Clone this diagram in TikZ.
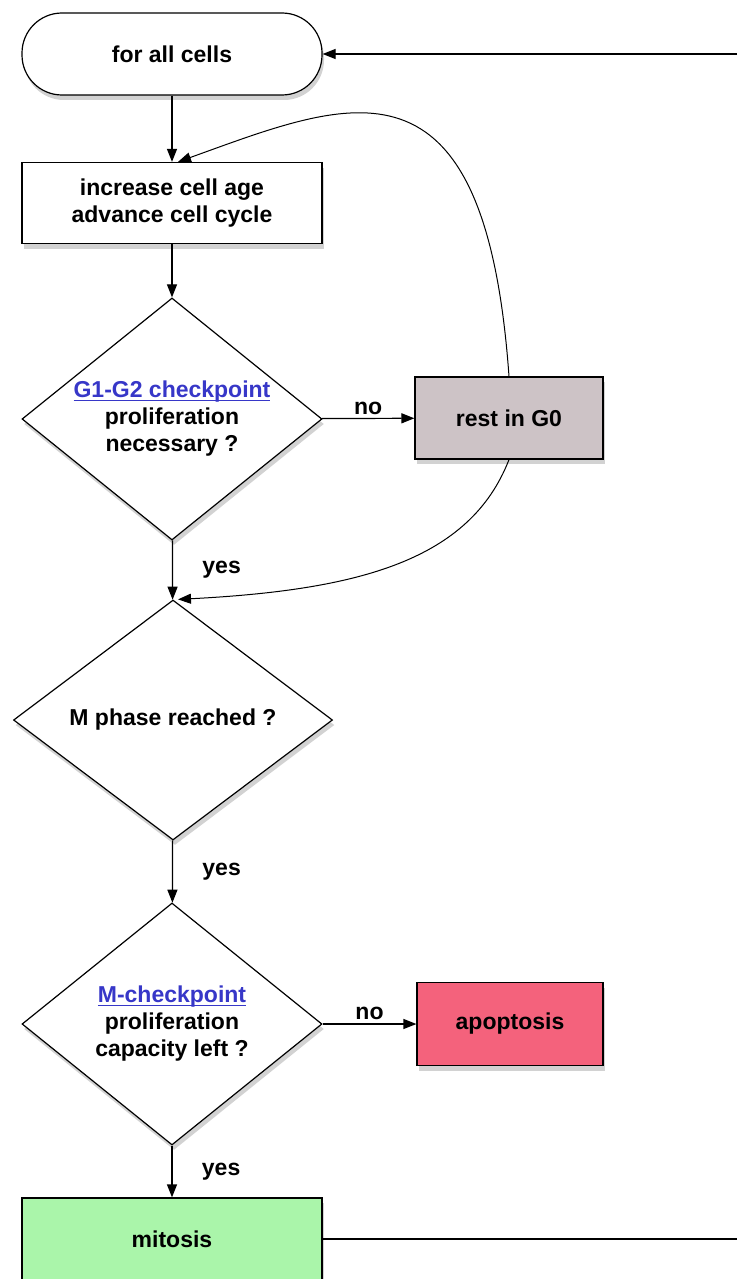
\documentclass[tikz,border=0pt]{standalone}
\usepackage{fontspec}
\setmainfont{Liberation Sans}
\usetikzlibrary{shapes.geometric,arrows.meta,shadows,positioning}

\definecolor{restgray}{RGB}{205,195,198}
\definecolor{apopred}{RGB}{244,98,124}
\definecolor{mitgreen}{RGB}{170,245,170}
\definecolor{linkblue}{RGB}{55,55,200}

\newcommand{\chklink}[1]{\textcolor{linkblue}{\setbox0\hbox{#1}\rlap{\rule[-3pt]{\wd0}{1.2pt}}\box0}}

\tikzset{
    flow/.style={-{Triangle[length=13pt,width=10pt]}, line width=1.2pt},
    softshadow/.style={drop shadow={shadow xshift=2pt, shadow yshift=-5pt, opacity=0.35}},
    stepbox/.style={draw, line width=1.2pt, fill=white, align=center,
        minimum width=300pt, minimum height=81pt, softshadow},
    sidebox/.style={stepbox, minimum width=188pt, minimum height=82pt},
    decision/.style={draw, diamond, line width=1.2pt, fill=white, align=center,
        inner sep=0pt, aspect=1.24, minimum width=300pt, minimum height=242pt, softshadow},
}

\begin{document}
\begin{tikzpicture}[x=1pt, y=-1pt, font=\fontsize{23}{27}\selectfont\bfseries]
    \useasboundingbox[fill=white] (0,0) rectangle (737,1279);

    % main column
    \node[stepbox, rounded corners=40pt, minimum height=82pt] (start) at (172,54) {for all cells};
    \node[stepbox] (age) at (172,203) {increase cell age\\advance cell cycle};
    \node[decision] (gcheck) at (172,419) {\chklink{G1-G2 checkpoint}\\proliferation\\necessary ?};
    \node[decision, aspect=1.33, minimum width=319pt, minimum height=240pt] (mphase) at (173,720) {M phase reached ?};
    \node[decision] (mcheck) at (172,1024) {\chklink{M-checkpoint}\\proliferation\\capacity left ?};
    \node[stepbox, fill=mitgreen, minimum height=82pt] (mitosis) at (172,1239) {mitosis};

    % side column
    \node[sidebox, fill=restgray] (rest) at (509,418) {rest in G0};
    \node[sidebox, fill=apopred, minimum width=186pt, minimum height=83pt] (apop) at (510,1024) {apoptosis};

    \coordinate (loopin) at (737,54);
    \coordinate (loopout) at (737,1239);

    \draw[flow] (loopin) -- (start);
    \draw[flow] (start) -- (age);
    \draw[flow] (age) -- (gcheck);
    \draw[flow] (gcheck) -- node[above] {no} (rest);
    \draw[flow] (gcheck) -- node[right=26pt] {yes} (mphase);
    \draw[flow] (mphase) -- node[right=26pt] {yes} (mcheck);
    \draw[flow] (mcheck) -- node[above] {no} (apop);
    \draw[flow] (mcheck) -- node[right=26pt] {yes} (mitosis);
    \draw[line width=1.2pt] (mitosis) -- (loopout);

    % back from G0
    \draw[flow, line width=1pt] (rest.north) .. controls (485,40) and (350,100) .. ([xshift=6pt]age.north);
    \draw[flow, line width=1pt] (rest.south) .. controls (470,560) and (360,590) .. ([xshift=5pt]mphase.north);
\end{tikzpicture}
\end{document}
